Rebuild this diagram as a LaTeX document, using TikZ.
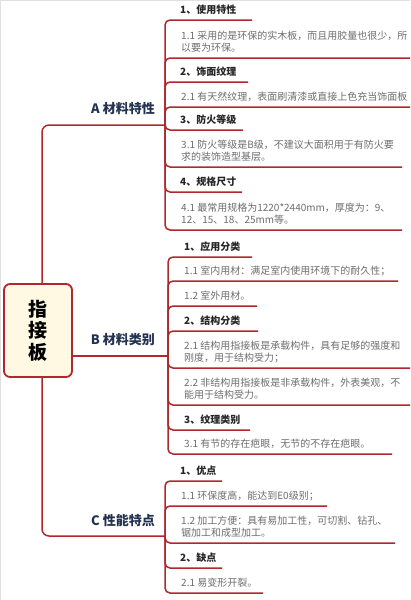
\documentclass[tikz,border=0pt]{standalone}
\usepackage{fontspec}
\setmainfont{Noto Sans CJK SC}
\definecolor{lred}{HTML}{B0282D}
\definecolor{cream}{HTML}{FFF8E3}
\definecolor{headc}{HTML}{262626}
\definecolor{grayc}{HTML}{6E6E6E}
\definecolor{navy}{HTML}{23324F}
\begin{document}
\begin{tikzpicture}[x=1pt,y=-1pt,
  ln/.style={draw=lred, line width=1.5pt, rounded corners=5pt},
  hd/.style={anchor=base west, inner sep=0pt, font=\fontsize{10}{12.5}\selectfont\bfseries, text=headc},
  tx/.style={anchor=base west, inner sep=0pt, font=\fontsize{10}{12.5}\selectfont, text=grayc, align=left},
  br/.style={anchor=base east, inner sep=0pt, font=\fontsize{13}{15}\selectfont\bfseries, text=navy},
  rootbox/.style={draw=lred, line width=1.8pt, fill=cream, rounded corners=6pt, minimum width=68pt, minimum height=93pt, align=center, inner sep=0pt, font=\fontsize{19}{21.5}\selectfont\bfseries, text=black}]
\useasboundingbox (0,0) rectangle (410,600);
\clip (0,0) rectangle (410,600);
\fill[white] (0,0) rectangle (410,600);
\draw[black!12, line width=1pt] (0.5,600) -- (0.5,0.5) -- (410,0.5);

% trunk and branch points
\coordinate (a) at (165,125);
\coordinate (b) at (168,356);
\coordinate (c) at (165,536);
\draw[ln, rounded corners=7pt] (a) -| (42,330) |- (c);
\node[rootbox] (root) at (38,330.5) {指\\接\\板};
\draw[ln] (root.east |- b) -- (b);

\node[br] (la) at (155,113) {A 材料特性};
\node[br] (lb) at (155,344) {B 材料类别};
\node[br] (lc) at (155,525) {C 性能特点};

% ---- A children ----
\coordinate (a1e) at (252,20);  \draw[ln] (a) |- (a1e);
\coordinate (a2e) at (412,58);  \draw[ln] (a) |- (a2e);
\coordinate (a3e) at (248,82);  \draw[ln] (a) |- (a3e);
\coordinate (a4e) at (412,107); \draw[ln] (a) |- (a4e);
\coordinate (a5e) at (243,130); \draw[ln] (a) |- (a5e);
\coordinate (a6e) at (402,167); \draw[ln] (a) |- (a6e);
\coordinate (a7e) at (242,192); \draw[ln] (a) |- (a7e);
\coordinate (a8e) at (402,230); \draw[ln] (a) |- (a8e);
\node[hd] (a1) at (180,13.8) {1、使用特性};
\node[tx] (a2) at (181,51.8) {1.1 采用的是环保的实木板，而且用胶量也很少，所\\以要为环保。};
\node[hd] (a3) at (180,75.8) {2、饰面纹理};
\node[tx] (a4) at (181,100.8) {2.1 有天然纹理，表面刷清漆或直接上色充当饰面板};
\node[hd] (a5) at (180,123.8) {3、防火等级};
\node[tx] (a6) at (181,160.8) {3.1 防火等级是B级，不建议大面积用于有防火要\\求的装饰造型基层。};
\node[hd] (a7) at (180,185.8) {4、规格尺寸};
\node[tx] (a8) at (181,223.8) {4.1 最常用规格为1220*2440mm，厚度为：9、\\12、15、18、25mm等。};

% ---- B children ----
\coordinate (b1e) at (252,257); \draw[ln] (b) |- (b1e);
\coordinate (b2e) at (398,281); \draw[ln] (b) |- (b2e);
\coordinate (b3e) at (257,306); \draw[ln] (b) |- (b3e);
\coordinate (b4e) at (258,331); \draw[ln] (b) |- (b4e);
\coordinate (b5e) at (412,368); \draw[ln] (b) |- (b5e);
\coordinate (b6e) at (412,405); \draw[ln] (b) |- (b6e);
\coordinate (b7e) at (250,430); \draw[ln] (b) |- (b7e);
\coordinate (b8e) at (392,454); \draw[ln] (b) |- (b8e);
\node[hd] (b1) at (184,250.8) {1、应用分类};
\node[tx] (b2) at (184,274.8) {1.1 室内用材：满足室内使用环境下的耐久性；};
\node[tx] (b3) at (184,299.8) {1.2 室外用材。};
\node[hd] (b4) at (184,324.8) {2、结构分类};
\node[tx] (b5) at (184,361.8) {2.1 结构用指接板是承载构件，具有足够的强度和\\刚度，用于结构受力；};
\node[tx] (b6) at (184,398.8) {2.2 非结构用指接板是非承载构件，外表美观，不\\能用于结构受力。};
\node[hd] (b7) at (184,423.8) {3、纹理类别};
\node[tx] (b8) at (184,447.8) {3.1 有节的存在疤眼，无节的不存在疤眼。};

% ---- C children ----
\coordinate (c1e) at (222,481); \draw[ln] (c) |- (c1e);
\coordinate (c2e) at (327,506); \draw[ln] (c) |- (c2e);
\coordinate (c3e) at (395,543); \draw[ln] (c) |- (c3e);
\coordinate (c4e) at (222,568); \draw[ln] (c) |- (c4e);
\coordinate (c5e) at (263,593); \draw[ln] (c) |- (c5e);
\node[hd] (c1) at (180,474.8) {1、优点};
\node[tx] (c2) at (181,499.8) {1.1 环保度高，能达到E0级别；};
\node[tx] (c3) at (181,536.8) {1.2 加工方便：具有易加工性，可切割、钻孔、\\锯加工和成型加工。};
\node[hd] (c4) at (180,561.8) {2、缺点};
\node[tx] (c5) at (181,586.8) {2.1 易变形开裂。};
\end{tikzpicture}
\end{document}
